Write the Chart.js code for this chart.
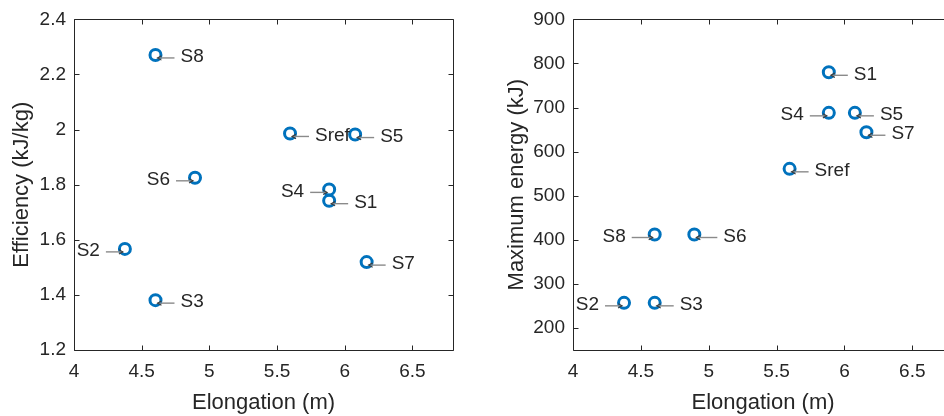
<!DOCTYPE html>
<html>
<head>
<meta charset="utf-8">
<script src="https://cdn.jsdelivr.net/npm/chart.js@4"></script>
<style>
  html, body { margin: 0; padding: 0; background: #fff; overflow: hidden; width: 944px; height: 416px; }
  .panel { position: absolute; top: 0; height: 416px; }
  #panelA { left: 0; width: 470px; }
  #panelB { left: 480px; width: 490px; }
</style>
</head>
<body>
<div class="panel" id="panelA"><canvas id="effChart" width="470" height="416"></canvas></div>
<div class="panel" id="panelB"><canvas id="energyChart" width="490" height="416"></canvas></div>
<script>
// Design cases
const cases      = ['S1', 'S2', 'S3', 'S4', 'S5', 'S6', 'S7', 'S8', 'Sref'];
// Elongation (m)
const elongation = [5.885, 4.376, 4.602, 5.885, 6.077, 4.894, 6.162, 4.602, 5.596];
// Efficiency (kJ/kg)
const efficiency = [1.742, 1.567, 1.381, 1.783, 1.982, 1.825, 1.519, 2.271, 1.986];
// Maximum energy (kJ)
const maxEnergy  = [780, 257, 257, 688, 688, 412, 644, 412, 561];

// Tick values
const elongTicks  = [4, 4.5, 5, 5.5, 6, 6.5];
const effTicks    = [1.2, 1.4, 1.6, 1.8, 2, 2.2, 2.4];
const energyTicks = [200, 300, 400, 500, 600, 700, 800, 900];

const INK = '#262626';
const FONT = '"Liberation Sans", Arial, Helvetica, sans-serif';
Chart.defaults.font.family = FONT;
Chart.defaults.color = INK;

// Axes box with inward tick marks on all four sides
const boxFrame = {
  id: 'boxFrame',
  beforeDatasetsDraw(chart) {
    const { ctx, chartArea: a, scales } = chart;
    const L = Math.round(a.left) + 0.5, R = Math.round(a.right) + 0.5;
    const T = Math.round(a.top) + 0.5, B = Math.round(a.bottom) + 0.5;
    const len = 5;
    ctx.save();
    ctx.strokeStyle = INK;
    ctx.lineWidth = 1;
    ctx.beginPath();
    ctx.rect(L, T, R - L, B - T);
    scales.x.ticks.forEach(t => {
      const px = Math.round(scales.x.getPixelForValue(t.value)) + 0.5;
      ctx.moveTo(px, B); ctx.lineTo(px, B - len);
      ctx.moveTo(px, T); ctx.lineTo(px, T + len);
    });
    scales.y.ticks.forEach(t => {
      const py = Math.round(scales.y.getPixelForValue(t.value)) + 0.5;
      ctx.moveTo(L, py); ctx.lineTo(L + len, py);
      ctx.moveTo(R, py); ctx.lineTo(R - len, py);
    });
    ctx.stroke();
    ctx.restore();
  }
};

// Text-arrow tags naming each point
const pointTags = {
  id: 'pointTags',
  afterDatasetsDraw(chart, args, opts) {
    const { ctx } = chart;
    const ds = chart.data.datasets[0];
    const meta = chart.getDatasetMeta(0);
    ctx.save();
    ctx.font = '19px ' + FONT;
    ctx.textBaseline = 'middle';
    meta.data.forEach((pt, i) => {
      const name = ds.data[i].name;
      const dir = (opts.leftSide || []).includes(name) ? -1 : 1;
      const extra = (opts.longer || {})[name] || 0;
      const y = pt.y + 3;
      const tipX = pt.x + dir * 2;
      const tailX = pt.x + dir * (19 + extra);
      ctx.strokeStyle = '#8a8a8a';
      ctx.lineWidth = 1.4;
      ctx.beginPath();
      ctx.moveTo(tailX, y);
      ctx.lineTo(tipX, y);
      ctx.stroke();
      ctx.strokeStyle = '#3c3c3c';
      ctx.lineWidth = 1.1;
      ctx.beginPath();
      ctx.moveTo(tipX + dir * 4, y - 2.2);
      ctx.lineTo(tipX, y);
      ctx.lineTo(tipX + dir * 4, y + 2.2);
      ctx.stroke();
      ctx.fillStyle = INK;
      ctx.textAlign = dir > 0 ? 'left' : 'right';
      ctx.fillText(name, pt.x + dir * (25 + extra), pt.y + 2);
    });
    ctx.restore();
  }
};

function scatterPanel(canvasId, yValues, cfg) {
  const points = elongation.map((x, i) => ({ x: x, y: yValues[i], name: cases[i] }));
  return new Chart(document.getElementById(canvasId), {
    type: 'scatter',
    data: {
      datasets: [{
        data: points,
        pointStyle: 'circle',
        pointRadius: 5.5,
        pointHoverRadius: 5.5,
        pointBorderWidth: 3,
        pointBorderColor: '#0072BD',
        pointBackgroundColor: 'rgba(0,0,0,0)'
      }]
    },
    options: {
      responsive: false,
      animation: false,
      events: [],
      layout: { padding: { left: 0, top: 14, right: cfg.padRight, bottom: 0 } },
      plugins: {
        legend: { display: false },
        tooltip: { enabled: false },
        pointTags: { leftSide: cfg.leftSide, longer: cfg.longer }
      },
      scales: {
        x: {
          type: 'linear',
          min: 4, max: 6.8,
          afterBuildTicks: s => { s.ticks = elongTicks.map(v => ({ value: v })); },
          afterFit: s => { s.height = 66; },
          grid: { display: false, drawTicks: false },
          border: { display: false },
          ticks: { font: { size: 19 }, color: INK, padding: 10, callback: v => String(v), maxRotation: 0 },
          title: { display: true, text: 'Elongation (m)', font: { size: 22 }, color: INK, padding: { top: 0, bottom: 0 } }
        },
        y: {
          type: 'linear',
          min: cfg.yMin, max: cfg.yMax,
          afterBuildTicks: s => { s.ticks = cfg.yTicks.map(v => ({ value: v })); },
          afterFit: s => { s.width = cfg.yWidth; },
          grid: { display: false, drawTicks: false },
          border: { display: false },
          ticks: { font: { size: 19 }, color: INK, padding: 8, callback: v => String(v) },
          title: { display: true, text: cfg.yTitle, font: { size: 22 }, color: INK, padding: { top: cfg.yTitlePad, bottom: 0 } }
        }
      }
    },
    plugins: [boxFrame, pointTags]
  });
}

scatterPanel('effChart', efficiency, {
  yMin: 1.2, yMax: 2.4, yTicks: effTicks, yTitle: 'Efficiency (kJ/kg)',
  yWidth: 74, yTitlePad: 9, padRight: 17,
  leftSide: ['S6', 'S4', 'S2'], longer: {}
});

scatterPanel('energyChart', maxEnergy, {
  yMin: 150, yMax: 900, yTicks: energyTicks, yTitle: 'Maximum energy (kJ)',
  yWidth: 93, yTitlePad: 24, padRight: 17,
  leftSide: ['S4', 'S8', 'S2'], longer: { S8: 4, S6: 4 }
});
</script>
</body>
</html>
